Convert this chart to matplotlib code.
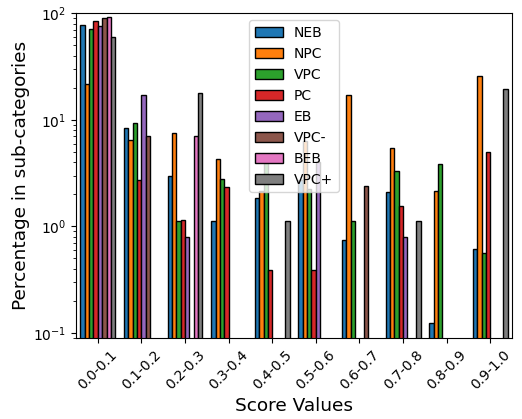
import numpy as np
import matplotlib
matplotlib.use("Agg")
import matplotlib.pyplot as plt

categories = ["0.0-0.1", "0.1-0.2", "0.2-0.3", "0.3-0.4", "0.4-0.5",
              "0.5-0.6", "0.6-0.7", "0.7-0.8", "0.8-0.9", "0.9-1.0"]
series_names = ["NEB", "NPC", "VPC", "PC", "EB", "VPC-", "BEB", "VPC+"]

NEB = [78.5, 8.4, 2.98, 1.12, 1.85, 2.74, 0.75, 2.11, 0.124, 0.615]
NPC = [21.8, 6.5, 7.55, 4.3, 2.17, 6.3, 17.2, 5.4, 2.17, 25.9]
VPC = [71.0, 9.4, 1.12, 2.79, 3.9, 2.23, 1.12, 3.34, 3.89, 0.56]
PC = [85.5, 2.71, 1.16, 2.33, 0.39, 0.39, 0, 1.56, 0, 5.04]
EB = [76.8, 17.3, 0.79, 0, 0, 4.0, 0, 0.79, 0, 0]
VPC_minus = [90.0, 7.13, 0, 0, 0, 0, 2.37, 0, 0, 0]
BEB = [92.7, 0, 7.13, 0, 0, 0, 0, 0, 0, 0]
VPC_plus = [59.7, 0, 18.0, 0, 1.13, 0, 0, 1.13, 0, 19.3]

series = [NEB, NPC, VPC, PC, EB, VPC_minus, BEB, VPC_plus]
colors = ["#1f77b4", "#ff7f0e", "#2ca02c", "#d62728",
          "#9467bd", "#8c564b", "#e377c2", "#7f7f7f"]

fig = plt.figure(figsize=(5.22, 4.19), dpi=100)
ax = fig.add_axes([0.1456, 0.194, 0.8354, 0.774])
ax.set_yscale("log")

width = 0.1
x = np.arange(len(categories))
n = len(series)
for j, (name, vals, c) in enumerate(zip(series_names, series, colors)):
    vals = np.array(vals, dtype=float)
    mask = vals > 0
    pos = x + (j - (n - 1) / 2) * width
    ax.bar(pos[mask], vals[mask], width=width, color=c, edgecolor="black",
           linewidth=1, label=name)

ax.set_xlim(-0.5, 9.5)
ax.set_ylim(0.09, 100)
ax.set_xticks(x)
ax.set_xticklabels(categories, rotation=45, fontsize=10)
ax.tick_params(axis="y", labelsize=10)
ax.set_xlabel("Score Values", fontsize=13.3)
ax.set_ylabel("Percentage in sub-categories", fontsize=13.3, labelpad=2)
ax.legend(loc="upper center", fontsize=10)

fig.savefig("out.png", dpi=100)
